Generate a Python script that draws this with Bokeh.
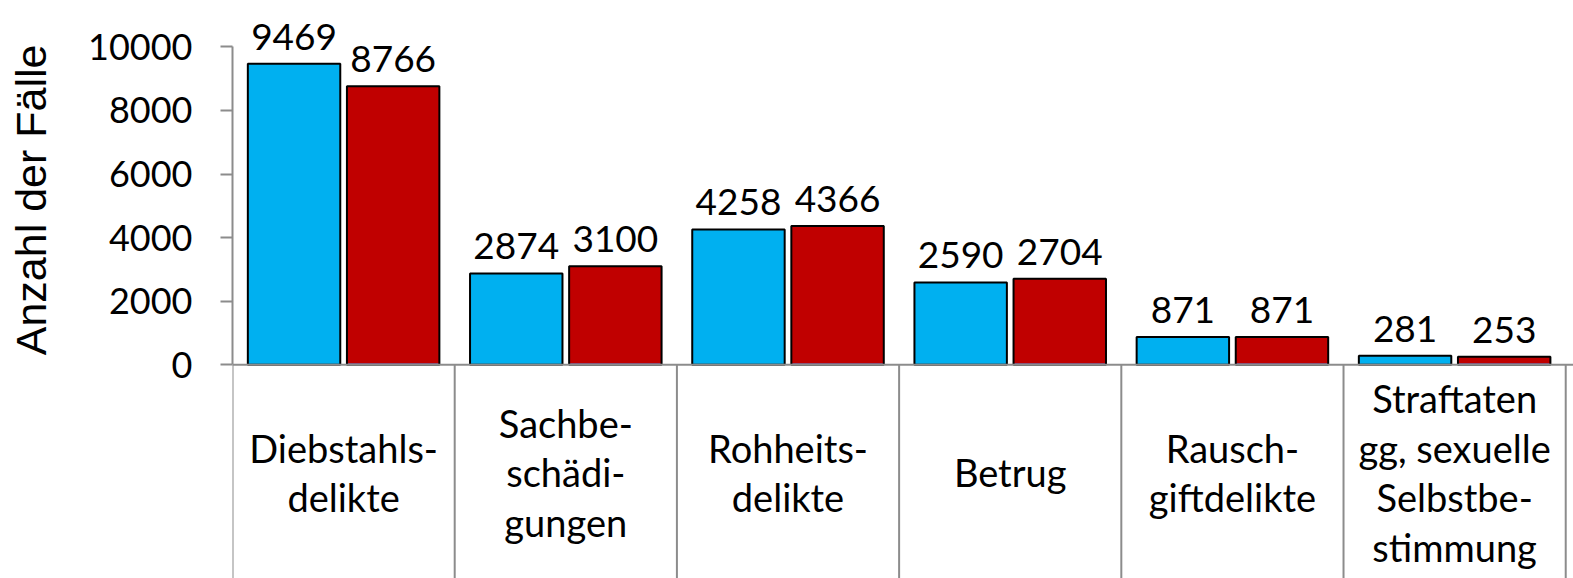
from bokeh.plotting import figure
from bokeh.models import Range1d, FixedTicker, Span, ColumnDataSource
from bokeh.transform import dodge
from bokeh.core.properties import value
from bokeh.embed import file_html
from bokeh.resources import INLINE

# ---- data ----
categories = [
    "Diebstahls-\ndelikte",
    "Sachbe-\nschädi-\ngungen",
    "Rohheits-\ndelikte",
    "Betrug",
    "Rausch-\ngiftdelikte",
    "Straftaten\ngg, sexuelle\nSelbstbe-\nstimmung",
]
serie_blau = [9469, 2874, 4258, 2590, 871, 281]
serie_rot = [8766, 3100, 4366, 2704, 871, 253]
serie_lila = [50, 50, 50, 50, 50, 50]
y_ticks = [0, 2000, 4000, 6000, 8000, 10000]
y_title = "Anzahl der Fälle"

BLUE = "#00B0F0"
RED = "#C00000"
PURPLE = "#8064A2"
GRAY = "#8c8c8c"
FONT = "Lato"

n = len(categories)
src = ColumnDataSource(dict(
    x=[i + 0.5 for i in range(n)],
    cat=categories,
    blau=serie_blau,
    rot=serie_rot,
    lila=serie_lila,
    blau_t=[str(v) for v in serie_blau],
    rot_t=[str(v) for v in serie_rot],
    lab_y=[-3388] * n,
))

p = figure(
    width=1573, height=578,
    x_range=Range1d(0, 6.035), y_range=Range1d(-6724, 11460),
    output_backend="svg", toolbar_location=None,
    x_axis_location=None,
    min_border_left=232, min_border_right=0, min_border_top=0, min_border_bottom=0,
    background_fill_color="white", border_fill_color="white",
)
p.outline_line_color = None
p.grid.visible = False

ax = p.yaxis[0]
ax.ticker = FixedTicker(ticks=y_ticks)
ax.bounds = (0, 10000)
ax.axis_line_color = GRAY
ax.axis_line_width = 2
ax.major_tick_line_color = GRAY
ax.major_tick_line_width = 2
ax.major_tick_out = 12
ax.major_tick_in = 0
ax.minor_tick_line_color = None
ax.major_label_standoff = 28
ax.major_label_text_font = FONT
ax.major_label_text_font_size = "36px"
ax.major_label_text_color = "black"
# title: leading no-break spaces shift the centred label upwards to sit beside the bars
ax.axis_label = "\u00a0" * 15 + y_title
ax.axis_label_text_font = "Liberation Sans"
ax.axis_label_text_font_size = "43px"
ax.axis_label_text_font_style = "normal"
ax.axis_label_text_color = "black"
ax.axis_label_standoff = 30

OFF = 0.223
W = 0.416
p.vbar(x=dodge("x", -OFF, range=p.x_range), top="blau", bottom=0, width=W, source=src,
       fill_color=BLUE, line_color="black", line_width=2)
p.vbar(x=dodge("x", OFF, range=p.x_range), top="rot", bottom=0, width=W, source=src,
       fill_color=RED, line_color="black", line_width=2)
p.vbar(x=dodge("x", OFF, range=p.x_range), top="lila", bottom=0, width=W - 0.01, source=src,
       fill_color=PURPLE, line_color=None)

# category axis line and separators
p.add_layout(Span(location=0, dimension="width", line_color=GRAY, line_width=2))
sep = ColumnDataSource(dict(x=list(range(n + 1))))
p.segment(x0="x", y0=0, x1="x", y1=-7000, source=sep, line_color=GRAY, line_width=2)

# data labels
p.text(x=dodge("x", -OFF, range=p.x_range), y="blau", text="blau_t", source=src,
       text_font=value(FONT), text_font_size="37px", text_align="center",
       text_baseline="alphabetic", y_offset=-27, text_color="black")
p.text(x=dodge("x", OFF, range=p.x_range), y="rot", text="rot_t", source=src,
       text_font=value(FONT), text_font_size="37px", text_align="center",
       text_baseline="alphabetic", y_offset=-27, text_color="black")

# category labels
p.text(x="x", y="lab_y", text="cat", source=src,
       text_font=value(FONT), text_font_size="38px", text_align="center",
       text_baseline="middle", text_line_height=1.075, text_color="black")

open("out.html", "w").write(file_html(p, INLINE))
